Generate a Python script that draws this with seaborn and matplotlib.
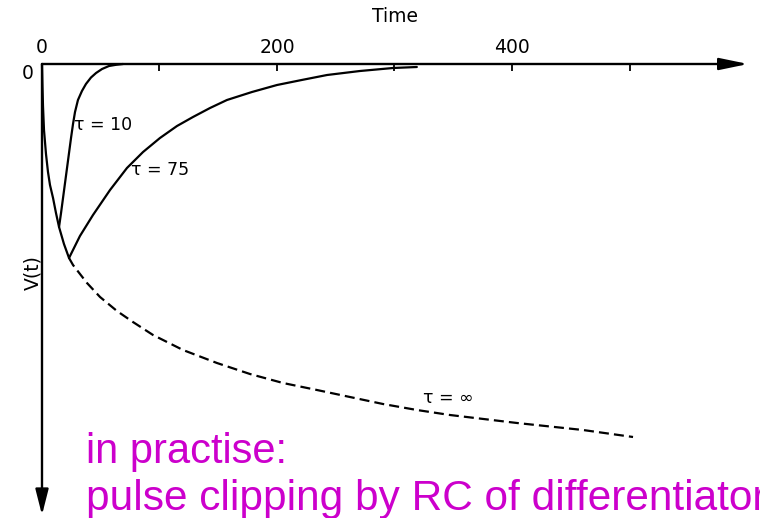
import numpy as np
import pandas as pd
import matplotlib
matplotlib.use("Agg")
import matplotlib.pyplot as plt
from matplotlib.patches import ArrowStyle
import seaborn as sns

sns.set_theme(style="white")
plt.rcParams["font.family"] = ["DejaVu Sans"]
plt.rcParams["text.color"] = "black"

# ---- data (time units, arbitrary V units; negative = downward) ----
# tau = infinity (solid up to the branch point, dashed beyond)
tinf_t = [0, 0.4, 0.85, 1.7, 3.4, 5.1, 6.8, 9.4, 11.9, 14.5, 18.7, 23.0,
          26.4, 38.3, 49.4, 63.8, 77.4, 94.5, 106.4, 120.0, 148.9, 177.0, 205.1,
          234.0, 262.1, 290.2, 319.1, 347.2, 404.3, 460.4, 503.0]
tinf_v = [0, -0.22, -0.42, -0.66, -0.90, -1.08, -1.21, -1.34, -1.49, -1.63, -1.80, -1.94,
          -2.01, -2.19, -2.33, -2.47, -2.58, -2.71, -2.78, -2.86, -2.99, -3.10, -3.19,
          -3.26, -3.33, -3.40, -3.46, -3.51, -3.59, -3.66, -3.73]
branch_t = 23.0

# tau = 10
t10_t = [14.5, 16.2, 17.9, 19.6, 21.3, 23.0, 24.7, 26.4, 28.1, 30.6, 34.0, 37.4, 41.7, 46.0, 51.1, 57.0, 63.0, 69.0]
t10_v = [-1.63, -1.49, -1.34, -1.19, -1.04, -0.89, -0.74, -0.60, -0.48, -0.36, -0.27, -0.20, -0.135, -0.09, -0.05, -0.02, -0.008, 0.0]

# tau = 75
t75_t = [23.0, 32.3, 43.4, 57.9, 72.3, 86.0, 100.4, 114.9, 128.5, 143.0, 157.4, 178.7, 200.0, 221.0, 242.6, 270.6, 298.7, 319.0]
t75_v = [-1.94, -1.72, -1.51, -1.26, -1.04, -0.88, -0.74, -0.62, -0.53, -0.44, -0.36, -0.28, -0.21, -0.16, -0.11, -0.07, -0.04, -0.03]

x_major = [0, 200, 400]
x_minor = [100, 300, 500]
labels = ["τ = 10", "τ = 75", "τ = ∞"]

# ---- figure ----
fig = plt.figure(figsize=(7.6, 5.18), dpi=100)
ax = fig.add_axes([0, 0, 1, 1])
ax.set_xlim(-35.74, 611.06)
ax.set_ylim(-4.54, 0.64)

inf = pd.DataFrame({"t": tinf_t, "v": tinf_v})
solid = inf[inf.t <= branch_t]
dashed = inf[inf.t >= branch_t]
kw = dict(color="black", lw=1.6, estimator=None, sort=False, ax=ax, legend=False)
sns.lineplot(data=solid, x="t", y="v", **kw)
sns.lineplot(data=dashed, x="t", y="v", linestyle=(0, (4.5, 2.3)), **kw)
sns.lineplot(x=t10_t, y=t10_v, **kw)
sns.lineplot(x=t75_t, y=t75_v, **kw)

# axes drawn as arrows through the origin
for s in ax.spines.values():
    s.set_visible(False)
ax.spines["top"].set_position(("data", 0))
ax.spines["left"].set_position(("data", 0))
ax.annotate("", xy=(601, 0), xytext=(0, 0),
            arrowprops=dict(arrowstyle=ArrowStyle("-|>", head_length=1.45, head_width=0.3),
                            color="black", lw=1.7, shrinkA=0, shrinkB=0))
ax.annotate("", xy=(0, -4.51), xytext=(0, 0),
            arrowprops=dict(arrowstyle=ArrowStyle("-|>", head_length=1.3, head_width=0.33),
                            color="black", lw=1.7, shrinkA=0, shrinkB=0))

ax.xaxis.tick_top()
ax.set_xticks(x_major)
ax.set_xticks(x_minor, minor=True)
ax.tick_params(axis="x", which="both", top=True, bottom=False, direction="in",
               length=5, width=1.3, color="black", labeltop=True, labelbottom=False,
               labelsize=13.5, labelcolor="black", pad=5)
ax.tick_params(axis="x", which="minor", labeltop=False)
ax.set_yticks([0])
ax.set_yticklabels(["0"])
ax.tick_params(axis="y", left=True, length=0, labelsize=13.5, labelcolor="black", pad=6)
for lab in ax.get_yticklabels():
    lab.set_va("top")
ax.set_xlabel("")
ax.set_ylabel("")

ax.text(300.4, 0.47, "Time", ha="center", va="center", fontsize=13.5, color="black")
ax.text(-7.7, -2.09, "V(t)", ha="center", va="center", rotation=90, fontsize=13.5, color="black")
ax.text(51.9, -0.61, labels[0], ha="center", va="center", fontsize=12.5, color="black")
ax.text(100.4, -1.06, labels[1], ha="center", va="center", fontsize=12.5, color="black")
ax.text(345.5, -3.34, labels[2], ha="center", va="center", fontsize=12.5, color="black")

magenta = "#CC00CC"
ax.text(37.4, -3.99, "in practise:", ha="left", va="baseline", fontsize=30,
        color=magenta, family="Liberation Sans")
ax.text(37.4, -4.46, "pulse clipping by RC of differentiator", ha="left", va="baseline",
        fontsize=30.5, color=magenta, family="Liberation Sans", clip_on=False)

fig.savefig("out.png", dpi=100)
